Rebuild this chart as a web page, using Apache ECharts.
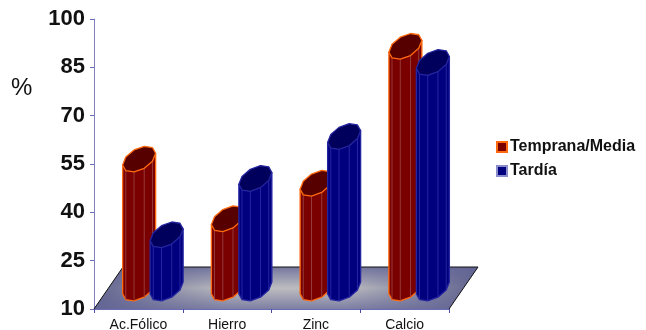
<!DOCTYPE html>
<html>
<head>
<meta charset="utf-8">
<style>html,body{margin:0;padding:0;background:#fff}#c{width:646px;height:330px}</style>
<script src="https://cdn.jsdelivr.net/npm/echarts@6/dist/echarts.min.js"></script>
</head>
<body>
<div id="c"></div>
<script>
const categories = ['Ac.Fólico', 'Hierro', 'Zinc', 'Calcio'];
const tempranaMedia = [50, 31.5, 42.5, 85];
const tardia = [26.5, 44, 57, 80];
const yTicks = [10, 25, 40, 55, 70, 85, 100];

// Oblique projection of the chart floor, in pixels
const DEPTH_X = 29, DEPTH_Y = 42;
const CAP_A = 14.7, CAP_B = 7.5, CAP_C = 13, SIDES = 10;

function ring(cx, cy) {
  const t0 = Math.atan2(CAP_B, CAP_A), pts = [];
  for (let k = 0; k <= SIDES; k++) {
    const t = t0 + k * 2 * Math.PI / SIDES;
    pts.push([cx + CAP_A * Math.cos(t) + CAP_B * Math.sin(t), cy - CAP_C * Math.sin(t)]);
  }
  return pts;
}

function cylinder(shift, c) {
  return function (params, api) {
    const top = api.coord([api.value(0), api.value(1)]);
    const base = api.coord([api.value(0), 10]);
    const cx = top[0] + DEPTH_X / 2 + shift;
    const topRing = ring(cx, top[1] - DEPTH_Y / 2);
    const baseRing = ring(cx, base[1] - DEPTH_Y / 2);
    const half = SIDES / 2;
    const body = [topRing[half]].concat(baseRing.slice(half), [topRing[SIDES]]);
    const children = [{
      type: 'polygon', shape: { points: body },
      style: { fill: c.body, stroke: c.edge, lineWidth: 1.3, lineJoin: 'round' }
    }];
    for (let k = half + 1; k < SIDES; k++) {
      children.push({
        type: 'line',
        shape: { x1: topRing[k][0], y1: topRing[k][1], x2: baseRing[k][0], y2: baseRing[k][1] },
        style: { stroke: c.facet, lineWidth: 0.8 }
      });
    }
    children.push({
      type: 'polygon', shape: { points: topRing.slice(0, SIDES) },
      style: { fill: c.cap, stroke: c.edge, lineWidth: 1.3, lineJoin: 'round' }
    });
    return { type: 'group', children };
  };
}

function floor(params, api) {
  const a = api.coord([0, 10]), b = api.coord([categories.length - 1, 10]);
  const band = api.size([1, 0])[0];
  const x0 = a[0] - band / 2, x1 = b[0] + band / 2, y = a[1];
  const pts = [[x0, y], [x1, y], [x1 + DEPTH_X, y - DEPTH_Y], [x0 + DEPTH_X, y - DEPTH_Y]];
  const horiz = new echarts.graphic.LinearGradient(0, 0, 1, 0, [
    { offset: 0, color: '#62648f' }, { offset: 0.35, color: '#bdbdc0' },
    { offset: 0.65, color: '#bdbdc0' }, { offset: 1, color: '#62648f' }
  ]);
  const vert = new echarts.graphic.LinearGradient(0, 0, 0, 1, [
    { offset: 0, color: 'rgba(98,100,150,0.8)' }, { offset: 0.5, color: 'rgba(98,100,150,0)' },
    { offset: 1, color: 'rgba(98,100,150,0.7)' }
  ]);
  return {
    type: 'group',
    children: [
      { type: 'polygon', shape: { points: pts }, style: { fill: horiz } },
      { type: 'polygon', shape: { points: pts }, style: { fill: vert } },
      { type: 'polyline', shape: { points: [pts[0], pts[3], pts[2], pts[1]] }, style: { fill: 'none', stroke: '#111', lineWidth: 1 } }
    ]
  };
}

const red = { body: '#7a0000', cap: '#560000', edge: '#ff6a10', facet: '#9c4a4a' };
const blue = { body: '#00007f', cap: '#00005c', edge: '#2525a0', facet: '#3030a8' };

const chart = echarts.init(document.getElementById('c'), null, { renderer: 'canvas' });
chart.setOption({
  animation: false,
  backgroundColor: '#fff',
  textStyle: { fontFamily: '"Liberation Sans", Arial, sans-serif' },
  grid: { left: 94, top: 19, width: 355, height: 290, containLabel: false, outerBoundsMode: 'none' },
  graphic: [{
    type: 'text', left: 11, top: 76,
    style: { text: '%', fontSize: 24, fontFamily: '"Liberation Sans"', fill: '#111' }
  }],
  legend: {
    left: 496, top: 139, padding: 0, orient: 'vertical', itemWidth: 10, itemHeight: 10, itemGap: 8, icon: 'rect',
    textStyle: { fontSize: 16, fontWeight: 'bold', color: '#111', fontFamily: '"Liberation Sans"', padding: [0, 0, 0, -2] },
    data: ['Temprana/Media', 'Tardía']
  },
  xAxis: {
    type: 'category', data: categories, boundaryGap: true,
    axisLine: { lineStyle: { color: '#6a6cb4', width: 1 } },
    axisTick: { show: true, alignWithLabel: false, length: 4, lineStyle: { color: '#4a4ca8' } },
    axisLabel: { fontSize: 14, color: '#111', margin: 9, fontFamily: '"Liberation Sans"' }
  },
  yAxis: {
    type: 'value', min: 10, max: 100,
    splitLine: { show: false },
    axisLine: { show: true, lineStyle: { color: '#8082c0', width: 1 } },
    axisTick: { show: true, length: 4, customValues: yTicks, lineStyle: { color: '#6a6cb4' } },
    axisLabel: { fontSize: 22, fontWeight: 'bold', color: '#111', margin: 9, padding: [5, 0, 0, 0], customValues: yTicks, fontFamily: '"Liberation Sans"' }
  },
  series: [
    { type: 'custom', silent: true, renderItem: floor, data: [[0, 10]], encode: { x: 0, y: 1 }, z: 1 },
    {
      name: 'Temprana/Media', type: 'custom', renderItem: cylinder(-13.75, red),
      data: tempranaMedia.map((v, i) => [i, v]), encode: { x: 0, y: 1 }, z: 2,
      itemStyle: { color: '#7a0000', borderColor: '#ff6a10', borderWidth: 1.5 }
    },
    {
      name: 'Tardía', type: 'custom', renderItem: cylinder(13.75, blue),
      data: tardia.map((v, i) => [i, v]), encode: { x: 0, y: 1 }, z: 3,
      itemStyle: { color: '#00007f', borderColor: '#8a8ccc', borderWidth: 1.5 }
    }
  ]
});
</script>
</body>
</html>
